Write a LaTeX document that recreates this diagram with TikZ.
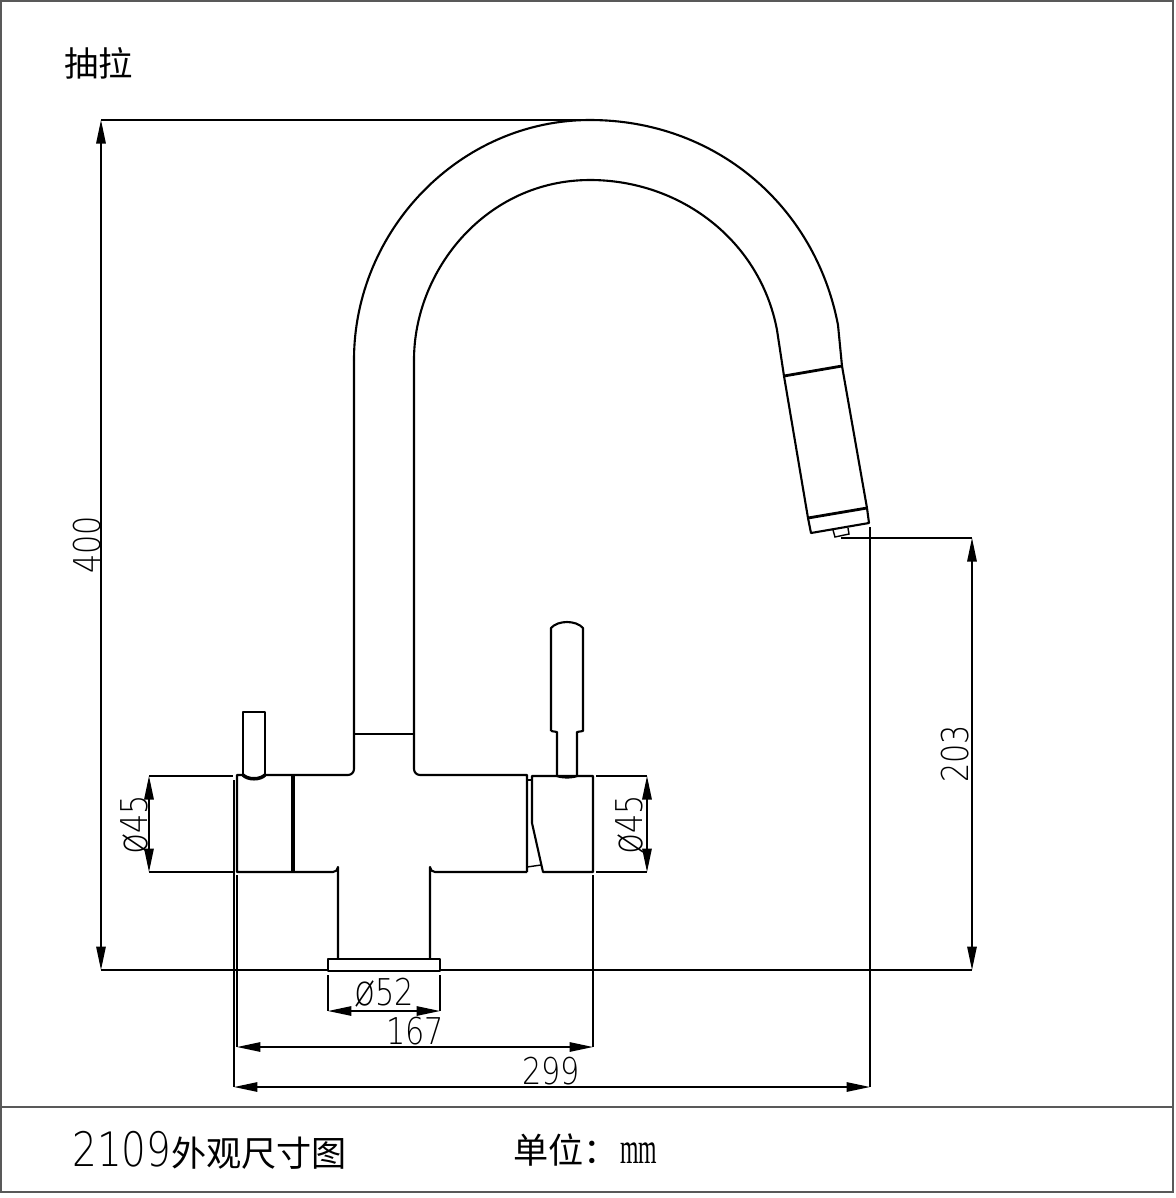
\documentclass[tikz,border=0pt]{standalone}
\usepackage{fontspec}
\usetikzlibrary{arrows.meta}
\setmainfont{Liberation Sans}
\newfontfamily\cjk{Noto Sans CJK SC}
\newfontfamily\dimfont[FakeStretch=0.82]{DejaVu Sans ExtraLight}
\newfontfamily\mmfont[FakeStretch=0.54]{Liberation Serif}
\def\dia{{\fontsize{24}{24}\selectfont ø}}
\tikzset{
  frame/.style={line width=0.9pt, black!65},
  body/.style={line width=1.2pt, line join=round},
  heavy/.style={line width=2pt},
  medium/.style={line width=1.6pt},
  dimtip/.tip={Triangle[length=0.47cm,width=0.19cm]},
  dimline/.style={line width=0.8pt, dimtip-dimtip},
  extline/.style={line width=0.8pt},
  dimtext/.style={font=\dimfont\fontsize{21}{21}\selectfont, inner sep=0pt},
  titletext/.style={font=\cjk\fontsize{20}{20}\selectfont, inner sep=0pt, anchor=west},
}
\begin{document}
\begin{tikzpicture}[x=0.02cm,y=-0.02cm]
  \useasboundingbox (0,0) rectangle (1176,1198);

  % frame
  \draw[frame] (1,1) rectangle (1173,1192);
  \draw[frame] (1,1107) -- (1173,1107);

  % titles
  \node[titletext, font=\cjk\fontsize{19.5}{20}\selectfont] (kind) at (64,63) {抽拉};
  \node[titletext] (name) at (72,1150) {{\dimfont\fontsize{27}{27}\selectfont 2109}外观尺寸图};
  \node[titletext] (unit) at (513,1150) {单位：};
  \node[font=\mmfont\fontsize{25}{25}\selectfont, inner sep=0pt, anchor=west] (mm) at (620,1153) {mm};

  % spout, outer and inner
  \draw[body] (354,360) .. controls (354,230) and (460,120) .. (590,120)
       .. controls (715,120) and (815,205) .. (838,325) -- (842,366);
  \draw[body] (414,360) .. controls (414,270) and (486,180) .. (590,180)
       .. controls (680,180) and (760,240) .. (777,330) -- (784,376);

  % spray head
  \coordinate (HA) at (784,376);
  \coordinate (HB) at (842,366);
  \coordinate (HC) at (867,508);
  \coordinate (HD) at (808,518);
  \draw[body] (HB) -- (HC) -- (869,523) -- (811,533) -- (HD) -- (HA);
  \draw[medium] (HA) -- (HB);
  \draw[medium] (HD) -- (HC);
  \draw[extline] (833,530) -- (835,537) -- (849,534) -- (848,528);

  % neck
  \draw[body] (354,360) -- (354,769) arc[start angle=0,end angle=90,radius=6] -- (265,775);
  \draw[body] (414,360) -- (414,769) arc[start angle=180,end angle=90,radius=6] -- (527,775) -- (527,872);
  \draw[medium] (354,734) -- (414,734);

  % left handle
  \draw[body] (243,775) -- (243,712) -- (265,712) -- (265,775);
  \draw[heavy] (243,775) .. controls (248,780) and (260,780) .. (265,775);
  \draw[body] (243,775) -- (237,775) -- (237,872) -- (333,872) arc[start angle=90,end angle=0,radius=5] -- (338,959);
  \draw[heavy] (293,776) -- (293,872);

  % lower body and base plate
  \draw[body] (527,872) -- (435,872) arc[start angle=90,end angle=180,radius=5] -- (430,959);
  \draw[body] (328,959) rectangle (440,971);

  % right handle
  \draw[body] (551,731) -- (551,628) .. controls (558,620) and (576,620) .. (583,628) -- (583,731) -- (577,732) -- (577,776);
  \draw[body] (551,731) -- (557,732) -- (557,776) .. controls (562,778) and (572,778) .. (577,776);
  \draw[body] (532,823) -- (532,776) -- (593,776) -- (593,872) -- (543,872) -- cycle;
  \draw[extline] (527,780) -- (532,780);
  \draw[extline] (527,867) -- (541,865);

  % dimension 400
  \coordinate (TA) at (101,120);
  \coordinate (BA) at (101,970);
  \draw[extline] (TA) -- (590,120);
  \draw[extline] (BA) -- (328,970);
  \draw[extline] (441,970) -- (972,970);
  \draw[dimline] (TA) -- (BA);
  \node[dimtext, rotate=90] (h400) at (87,545) {400};

  % dimension 203
  \coordinate (TB) at (972,538);
  \coordinate (BB) at (972,970);
  \draw[extline] (841,538) -- (TB);
  \draw[dimline] (TB) -- (BB);
  \node[dimtext, rotate=90] (h203) at (955,754) {203};

  % left diameter
  \coordinate (TC) at (149,776);
  \coordinate (BC) at (149,872);
  \draw[extline] (TC) -- (233,776);
  \draw[extline] (BC) -- (233,872);
  \draw[dimline] (TC) -- (BC);
  \node[dimtext, rotate=90] (dleft) at (135,825) {\dia 45};

  % right diameter
  \coordinate (TD) at (647,776);
  \coordinate (BD) at (647,872);
  \draw[extline] (596,776) -- (TD);
  \draw[extline] (596,872) -- (BD);
  \draw[dimline] (TD) -- (BD);
  \node[dimtext, rotate=90] (dright) at (630,825) {\dia 45};

  % plate diameter
  \coordinate (LE) at (328,1011);
  \coordinate (RE) at (440,1011);
  \draw[extline] (328,975) -- (LE);
  \draw[extline] (440,975) -- (RE);
  \draw[dimline] (LE) -- (RE);
  \node[dimtext] (dplate) at (384,993) {\dia 52};

  % dimension 167
  \coordinate (LF) at (237,1047);
  \coordinate (RF) at (593,1047);
  \draw[extline] (237,875) -- (LF);
  \draw[extline] (593,875) -- (RF);
  \draw[dimline] (LF) -- (RF);
  \node[dimtext] (w167) at (415,1031) {167};

  % dimension 299
  \coordinate (LG) at (234,1087);
  \coordinate (RG) at (870,1087);
  \draw[extline] (234,780) -- (LG);
  \draw[extline] (870,527) -- (RG);
  \draw[dimline] (LG) -- (RG);
  \node[dimtext] (w299) at (551,1071) {299};
\end{tikzpicture}
\end{document}
